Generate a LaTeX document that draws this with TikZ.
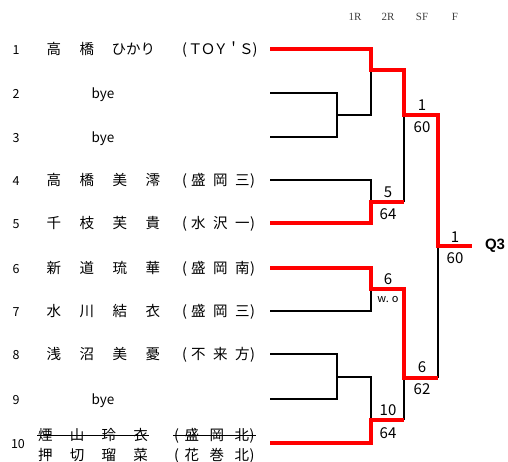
\documentclass[tikz,border=0pt]{standalone}
\usepackage{fontspec}
\usepackage{tikz}
\usepackage{xcolor}
\usetikzlibrary{positioning}
\setmainfont{Noto Sans CJK JP}
\newfontfamily\headfont{Liberation Serif}
\newfontfamily\qfont{Liberation Sans}
\newcommand{\fourch}[5]{#1\hspace{#5}#2\hspace{#5}#3\hspace{#5}#4}
\newcommand{\clubname}[5]{(\hspace{#5}#1\hspace{#4}#2\hspace{#4}#3\hspace{0.5pt})}
\newcommand{\letbox}[1]{\makebox[12.7pt]{#1}}

\tikzset{
  win/.style={red,line width=3.6pt},
  lose/.style={black,line width=2.3pt},
  strike/.style={black,line width=0.9pt},
  num/.style={inner sep=0pt,anchor=base,font=\fontsize{12.5}{12.5}\selectfont},
  nm/.style={inner sep=0pt,anchor=base west,font=\fontsize{14.5}{14.5}\selectfont},
  bye/.style={inner sep=0pt,anchor=base,font=\fontsize{13.5}{13.5}\selectfont},
  score/.style={inner sep=0pt,font=\fontsize{15}{15}\selectfont},
  head/.style={inner sep=0pt,text=black!75,font=\headfont\fontsize{11}{11}\selectfont}
}

\begin{document}
\begin{tikzpicture}[x=1pt,y=-1pt]
\useasboundingbox (0,0) rectangle (508,461);

% round headings
\node[head] (h1r) at (355,17) {1R};
\node[head] (h2r) at (388,17) {2R};
\node[head] (hsf) at (422,17) {SF};
\node[head] (hf) at (455,17) {F};

% draw numbers
\node[num] (n1) at (16,54) {1};
\node[num] (n2) at (16,98) {2};
\node[num] (n3) at (16,142) {3};
\node[num] (n4) at (16,185) {4};
\node[num] (n5) at (16,228) {5};
\node[num] (n6) at (16,273) {6};
\node[num] (n7) at (16,316) {7};
\node[num] (n8) at (16,359) {8};
\node[num] (n9) at (16,404) {9};
\node[num] (n10) at (18,448) {10};

% players
\node[nm] (p1) at (46.5,54) {高\hspace{18.5pt}橋\hspace{17.5pt}ひかり};
\node[nm] (c1) at (182,54) {(\hspace{2pt}\letbox{Ｔ}\letbox{Ｏ}\letbox{Ｙ}\letbox{＇}\letbox{Ｓ})};
\node[bye] (p2) at (103,98) {bye};
\node[bye] (p3) at (103,142) {bye};
\node[nm] (p4) at (46.5,185) {\fourch{高}{橋}{美}{澪}{18.5pt}};
\node[nm] (c4) at (182,185) {\clubname{盛}{岡}{三}{7.5pt}{4pt}};
\node[nm] (p5) at (46.5,228) {\fourch{千}{枝}{芙}{貴}{18.5pt}};
\node[nm] (c5) at (182,228) {\clubname{水}{沢}{一}{7.5pt}{4pt}};
\node[nm] (p6) at (46.5,273) {\fourch{新}{道}{琉}{華}{18.5pt}};
\node[nm] (c6) at (182,273) {\clubname{盛}{岡}{南}{7.5pt}{4pt}};
\node[nm] (p7) at (46.5,316) {\fourch{水}{川}{結}{衣}{18.5pt}};
\node[nm] (c7) at (182,316) {\clubname{盛}{岡}{三}{7.5pt}{4pt}};
\node[nm] (p8) at (46.5,359) {\fourch{浅}{沼}{美}{憂}{18.5pt}};
\node[nm] (c8) at (182,359) {\clubname{不}{来}{方}{7.5pt}{4pt}};
\node[bye] (p9) at (103,404) {bye};
\node[nm] (p10a) at (38,440) {\fourch{煙}{山}{玲}{衣}{17.2pt}};
\node[nm] (c10a) at (174,440) {\clubname{盛}{岡}{北}{10.5pt}{5.5pt}};
\node[nm] (p10b) at (38,460) {\fourch{押}{切}{瑠}{菜}{17.2pt}};
\node[nm] (c10b) at (174,460) {\clubname{花}{巻}{北}{10.5pt}{5.5pt}};
\draw[strike] ([xshift=-1pt,yshift=5pt]p10a.base west) -- ([xshift=1pt,yshift=5pt]p10a.base east);
\draw[strike] ([xshift=-1pt,yshift=5pt]c10a.base west) -- ([xshift=1pt,yshift=5pt]c10a.base east);

% bracket points
\coordinate (e1) at (270,49);
\coordinate (e2) at (270,93);
\coordinate (e3) at (270,137);
\coordinate (e4) at (270,180);
\coordinate (e5) at (270,223);
\coordinate (e6) at (270,268);
\coordinate (e7) at (270,311);
\coordinate (e8) at (270,354);
\coordinate (e9) at (270,399);
\coordinate (e10) at (270,443);
\coordinate (m23) at (337,115);
\coordinate (o23) at (371,115);
\coordinate (m89) at (337,377);
\coordinate (o89) at (371,377);
\coordinate (r1) at (371,70);
\coordinate (s1) at (404,70);
\coordinate (r45) at (371,202);
\coordinate (s45) at (404,202);
\coordinate (r67) at (371,289);
\coordinate (s67) at (404,289);
\coordinate (r10) at (371,420);
\coordinate (s10) at (404,420);
\coordinate (f1) at (404,115);
\coordinate (g1) at (438,115);
\coordinate (f6) at (404,378);
\coordinate (g6) at (438,378);
\coordinate (k1) at (438,246);
\coordinate (fin) at (472,246);

% losers
\draw[lose] (e2) -| (m23) |- (e3);
\draw[lose] (m23) -- (o23) -- (r1);
\draw[lose] (e4) -| (r45);
\draw[lose] (s45) -- (f1);
\draw[lose] (e7) -| (r67);
\draw[lose] (e8) -| (m89) |- (e9);
\draw[lose] (m89) -- (o89) -- (r10);
\draw[lose] (s10) -- (f6);
\draw[lose] (g6) -- (k1);

% winners
\draw[win] (e1) -| (r1) -- (s1) -- (f1) -- (g1) -- (k1) -- (fin);
\draw[win] (e5) -| (r45) -- (s45);
\draw[win] (e6) -| (r67) -- (s67) -- (f6) -- (g6);
\draw[win] (e10) -| (r10) -- (s10);

% scores
\node[score] (w45) at (388,192) {5};
\node[score] (x45) at (388,214) {64};
\node[score] (w67) at (388,279) {6};
\node[inner sep=0pt,font=\fontsize{11}{11}\selectfont] (x67) at (388,300) {w.\hspace{3pt}o};
\node[score] (w10) at (388,410) {10};
\node[score] (x10) at (388,433) {64};
\node[score] (wsf1) at (422,105) {1};
\node[score] (xsf1) at (422,127) {60};
\node[score] (wsf6) at (422,367) {6};
\node[score] (xsf6) at (422,389) {62};
\node[score] (wf) at (455,237) {1};
\node[score] (xf) at (455,258) {60};
\node[inner sep=0pt,font=\qfont\bfseries\fontsize{15}{15}\selectfont] (q3) at (495,246) {Q3};
\end{tikzpicture}
\end{document}
